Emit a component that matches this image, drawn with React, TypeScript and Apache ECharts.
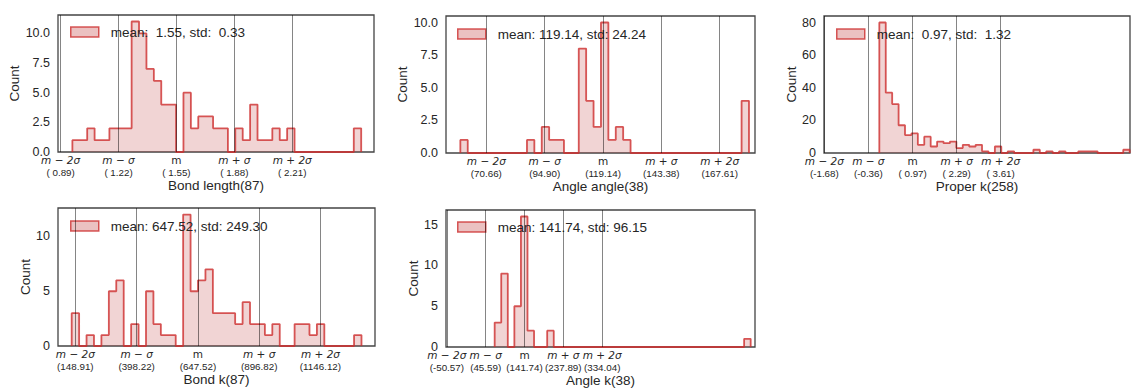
import React, { useEffect, useRef } from "react";
import * as echarts from "echarts";

// ---------- data ----------
const bondLengthCounts = [1, 1, 2, 1, 1, 2, 2, 2, 11, 10, 7, 6, 4, 4, 0, 5, 2, 3, 3, 2, 2, 0, 2, 1, 4, 1, 1, 2, 1, 2, 0, 0, 0, 0, 0, 0, 0, 0, 2];
const bondLengthBinRange = [0.957, 2.603];
const bondLengthMarks = [0.89, 1.22, 1.55, 1.88, 2.21];
const bondLengthXLimits = [0.875, 2.676];
const bondLengthYTicks = [0, 2.5, 5, 7.5, 10];

const angleAngleCounts = [1, 0, 0, 0, 0, 0, 0, 0, 0, 1, 0, 2, 1, 1, 0, 0, 8, 4, 2, 10, 1, 2, 1, 0, 0, 0, 0, 0, 0, 0, 0, 0, 0, 0, 0, 0, 0, 0, 4];
const angleAngleBinRange = [59.86, 179.8];
const angleAngleMarks = [70.66, 94.9, 119.14, 143.38, 167.61];
const angleAngleXLimits = [53.9, 182.3];
const angleAngleYTicks = [0, 2.5, 5, 7.5, 10];

const properKCounts = [80, 37, 30, 17, 11, 12, 5, 10, 4, 7, 6, 7, 3, 5, 4, 5, 1, 0, 4, 0, 1, 0, 0, 0, 2, 0, 1, 0, 1, 0, 0, 1, 1, 1, 0, 0, 0, 0, 2];
const properKBinRange = [-0.03, 7.48];
const properKMarks = [-1.68, -0.36, 0.97, 2.29, 3.61];
const properKXLimits = [-1.69, 7.49];
const properKYTicks = [0, 20, 40, 60, 80];

const bondKCounts = [3, 0, 1, 0, 1, 5, 6, 0, 2, 0, 5, 2, 1, 1, 0, 12, 5, 6, 7, 3, 3, 3, 2, 4, 2, 2, 1, 2, 0, 0, 2, 2, 1, 2, 0, 0, 0, 0, 1];
const bondKBinRange = [134.0, 1313];
const bondKMarks = [148.91, 398.22, 647.52, 896.82, 1146.12];
const bondKXLimits = [78.3, 1368];
const bondKYTicks = [0, 5, 10];

const angleKCounts = [3, 9, 0, 5, 16, 2, 0, 0, 2, 0, 0, 0, 0, 0, 0, 0, 0, 0, 0, 0, 0, 0, 0, 0, 0, 0, 0, 0, 0, 0, 0, 0, 0, 0, 0, 0, 0, 0, 1];
const angleKBinRange = [67.9, 701.7];
const angleKMarks = [-50.57, 45.59, 141.74, 237.89, 334.04];
const angleKXLimits = [-52.6, 712.4];
const angleKYTicks = [0, 5, 10, 15];

const markNames = ["m − 2σ", "m − σ", "m", "m + σ", "m + 2σ"];
const axisNames = ["Bond length(87)", "Angle angle(38)", "Proper k(258)", "Bond k(87)", "Angle k(38)"];
const legendTexts = [
  "mean:  1.55, std:  0.33",
  "mean: 119.14, std: 24.24",
  "mean:  0.97, std:  1.32",
  "mean: 647.52, std: 249.30",
  "mean: 141.74, std: 96.15",
];
const yDecimals = [1, 1, 0, 0, 0];

// ---------- layout / style ----------
const layouts = [
  { left: 58, top: 15, width: 316, height: 137, countGap: 33, legendLeft: 70, legendTop: 25 },
  { left: 446, top: 16, width: 309, height: 137, countGap: 34, legendLeft: 457, legendTop: 27 },
  { left: 824, top: 16, width: 306, height: 137, countGap: 22, legendLeft: 836, legendTop: 27 },
  { left: 58, top: 208, width: 317, height: 138, countGap: 22, legendLeft: 70, legendTop: 219 },
  { left: 446, top: 210, width: 309, height: 137, countGap: 23, legendLeft: 457, legendTop: 220 },
];

const FILL = "rgba(190,50,50,0.3)";
const EDGE = "rgba(205,45,45,0.8)";
const TEXT = "#262626";
const SANS = "'Liberation Sans', Arial, sans-serif";
const MATH = "'DejaVu Sans', sans-serif";

const panels = [
  { counts: bondLengthCounts, bins: bondLengthBinRange, marks: bondLengthMarks, xlim: bondLengthXLimits, yticks: bondLengthYTicks },
  { counts: angleAngleCounts, bins: angleAngleBinRange, marks: angleAngleMarks, xlim: angleAngleXLimits, yticks: angleAngleYTicks },
  { counts: properKCounts, bins: properKBinRange, marks: properKMarks, xlim: properKXLimits, yticks: properKYTicks },
  { counts: bondKCounts, bins: bondKBinRange, marks: bondKMarks, xlim: bondKXLimits, yticks: bondKYTicks },
  { counts: angleKCounts, bins: angleKBinRange, marks: angleKMarks, xlim: angleKXLimits, yticks: angleKYTicks },
];

function stepPoints(counts: number[], range: number[]) {
  const n = counts.length;
  const w = (range[1] - range[0]) / n;
  const pts: number[][] = [[range[0], 0]];
  for (let i = 0; i < n; i++) {
    const a = range[0] + i * w;
    const b = range[0] + (i + 1) * w;
    pts.push([a, counts[i]]);
    pts.push([b, counts[i]]);
  }
  pts.push([range[1], 0]);
  return pts;
}

const fmtNum = (v: number) => "(" + v.toFixed(2).padStart(5, " ") + ")";

function buildOption() {
  const grid: any[] = [];
  const xAxis: any[] = [];
  const yAxis: any[] = [];
  const series: any[] = [];
  const legend: any[] = [];

  panels.forEach((p, i) => {
    const L = layouts[i];
    grid.push({
      left: L.left,
      top: L.top,
      width: L.width,
      height: L.height,
      show: true,
      borderColor: "#444",
      borderWidth: 1.3,
      backgroundColor: "transparent",
      containLabel: false,
    });
    const marks = p.marks;
    xAxis.push({
      type: "value",
      gridIndex: i,
      min: p.xlim[0],
      max: p.xlim[1],
      axisLine: { show: false },
      axisTick: { show: false },
      splitLine: { show: false },
      axisLabel: {
        customValues: marks,
        showMinLabel: true,
        showMaxLabel: true,
        hideOverlap: false,
        interval: 0,
        margin: 2,
        formatter: (v: number) => {
          let k = 0;
          let best = Infinity;
          marks.forEach((m, j) => {
            const d = Math.abs(m - v);
            if (d < best) {
              best = d;
              k = j;
            }
          });
          return `{${k === 2 ? "mu" : "mi"}|${markNames[k]}}\n{num|${fmtNum(marks[k])}}`;
        },
        rich: {
          mi: { fontFamily: MATH, fontStyle: "italic", fontSize: 10.5, lineHeight: 12, color: TEXT },
          mu: { fontFamily: MATH, fontSize: 10.5, lineHeight: 12, color: TEXT },
          num: { fontFamily: SANS, fontSize: 9.8, lineHeight: 12, color: TEXT },
        },
      },
      name: axisNames[i],
      nameLocation: "middle",
      nameGap: 26,
      nameTextStyle: { fontFamily: SANS, fontSize: 13.5, color: TEXT },
    });
    const ymax = Math.max(...p.counts) * 1.05;
    const dec = yDecimals[i];
    yAxis.push({
      type: "value",
      gridIndex: i,
      min: 0,
      max: ymax,
      axisLine: { show: false },
      axisTick: { show: false },
      splitLine: { show: false },
      axisLabel: {
        customValues: p.yticks,
        showMinLabel: true,
        margin: 8,
        fontFamily: SANS,
        fontSize: 12.5,
        color: TEXT,
        formatter: (v: number) => v.toFixed(dec),
      },
      name: "Count",
      nameLocation: "middle",
      nameRotate: 90,
      nameGap: L.countGap,
      nameTextStyle: { fontFamily: SANS, fontSize: 13.5, color: TEXT },
    });
    series.push({
      type: "line",
      name: legendTexts[i],
      xAxisIndex: i,
      yAxisIndex: i,
      data: stepPoints(p.counts, p.bins),
      symbol: "none",
      showSymbol: false,
      lineStyle: { color: EDGE, width: 1.8 },
      itemStyle: { color: EDGE },
      areaStyle: { color: FILL, origin: "start" },
      silent: true,
      markLine: {
        silent: true,
        symbol: "none",
        label: { show: false },
        lineStyle: { color: "rgba(0,0,0,0.48)", width: 1, type: "solid" },
        emphasis: { disabled: true },
        data: marks.map((m) => ({ xAxis: m })),
      },
    });
    legend.push({
      data: [{ name: legendTexts[i], icon: "rect" }],
      left: L.legendLeft,
      top: L.legendTop,
      padding: 0,
      itemWidth: 28,
      itemHeight: 10,
      selectedMode: false,
      itemStyle: { color: FILL, borderColor: EDGE, borderWidth: 1.5 },
      textStyle: { fontFamily: SANS, fontSize: 13.5, color: TEXT, padding: [0, 0, 0, 7] },
    });
  });

  return {
    animation: false,
    backgroundColor: "#fff",
    grid,
    xAxis,
    yAxis,
    series,
    legend,
  };
}

export default function App() {
  const ref = useRef<HTMLDivElement>(null);
  useEffect(() => {
    document.body.style.margin = "0";
    if (!ref.current) return;
    const chart = echarts.init(ref.current, null, { renderer: "svg" });
    chart.setOption(buildOption() as any);
    return () => chart.dispose();
  }, []);
  return <div ref={ref} style={{ width: 1132, height: 388 }} />;
}
